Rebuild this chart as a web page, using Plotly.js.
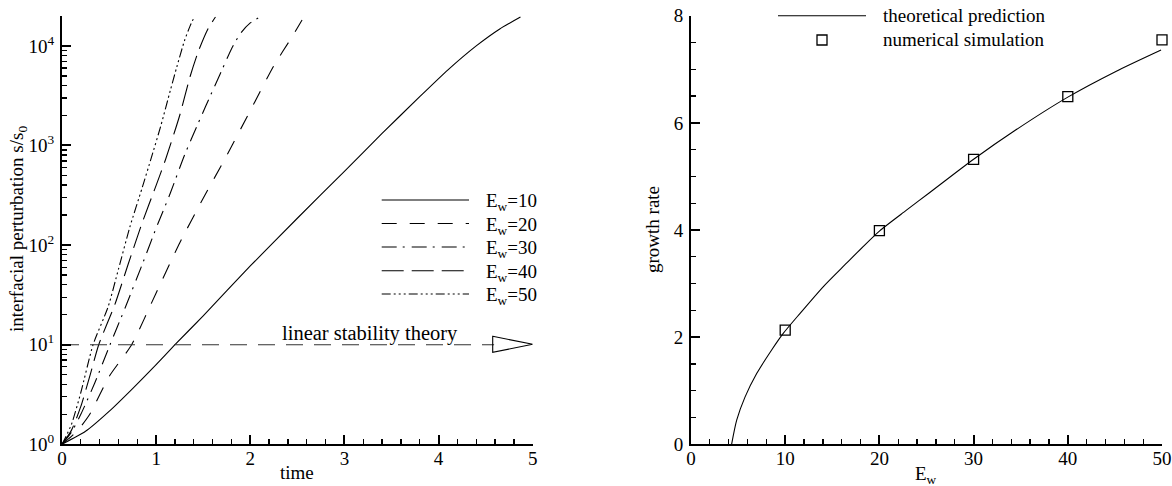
<!DOCTYPE html>
<html>
<head>
<meta charset="utf-8">
<script src="https://cdn.plot.ly/plotly-3.0.1.min.js"></script>
<style>
  html, body { margin: 0; padding: 0; background: #fff; }
  #plotArea { width: 1172px; height: 486px; }
</style>
</head>
<body>
<div id="plotArea"></div>
<script>
// left panel: perturbation growth s/s0 vs time (log scale)
var t10 = [0, 0.25, 0.5, 0.75, 1.0, 1.2, 1.5, 2.0, 2.5, 3.0, 3.4, 3.8, 4.1, 4.4, 4.65, 4.87];
var s10 = [1, 1.35, 2.14, 3.63, 6.31, 10, 19.5, 61.7, 186, 550, 1320, 3090, 5750, 10000, 14800, 19500];

var t20 = [0, 0.1, 0.2, 0.3, 0.5, 0.74, 1.0, 1.25, 1.5, 1.75, 2.0, 2.25, 2.45, 2.55];
var s20 = [1, 1.2, 1.51, 2.04, 4.79, 10, 33.1, 105, 295, 794, 2240, 6310, 12600, 18200];

var t30 = [0, 0.1, 0.2, 0.35, 0.51, 0.67, 0.85, 1.0, 1.15, 1.3, 1.45, 1.6, 1.7, 1.8, 1.9, 2.0, 2.12];
var s30 = [1, 1.32, 2.0, 4.17, 10, 23.4, 63.1, 148, 331, 794, 1700, 3550, 5750, 9330, 13500, 17000, 19950];

var t40 = [0, 0.1, 0.2, 0.3, 0.39, 0.56, 0.7, 0.85, 1.0, 1.1, 1.25, 1.36, 1.45, 1.55, 1.63];
var s40 = [1, 1.38, 2.4, 5.01, 10, 25.1, 63.1, 166, 398, 724, 2000, 4900, 8910, 14800, 19500];

var t50 = [0, 0.1, 0.2, 0.33, 0.49, 0.6, 0.72, 0.85, 0.95, 1.05, 1.15, 1.22, 1.3, 1.36, 1.41];
var s50 = [1, 1.58, 3.31, 10, 24, 57.5, 151, 372, 759, 1580, 3550, 6170, 11200, 15800, 19950];

var lstX = [0, 4.59];
var lstY = [10, 10];

var yTickVals = [1, 10, 100, 1000, 10000];
var yTickText = ['10<sup>0</sup>', '10<sup>1</sup>', '10<sup>2</sup>', '10<sup>3</sup>', '10<sup>4</sup>'];

// right panel: growth rate vs E_w
var theoE = [4.31, 4.85, 5.73, 6.97, 8.56, 9.79, 11.56, 14.03, 16.51, 18.27, 20.0, 22.87, 25.35, 30.0, 34.5, 40.0, 45.1, 49.9];
var theoG = [0, 0.45, 0.88, 1.32, 1.76, 2.07, 2.44, 2.94, 3.38, 3.69, 3.98, 4.37, 4.70, 5.32, 5.87, 6.48, 6.96, 7.36];

var simE = [10, 20, 30, 40, 50];
var simG = [2.13, 3.99, 5.32, 6.49, 7.55];

var legendNames = ['E<sub>w</sub>=10', 'E<sub>w</sub>=20', 'E<sub>w</sub>=30', 'E<sub>w</sub>=40', 'E<sub>w</sub>=50'];

var W = 1172, H = 486;
function px(x) { return x / W; }
function py(y) { return 1 - y / H; }

var dashes = ['solid', '15px,13px', '15px,6px,2px,7px', '22px,8px', '9px,3px,2px,3px,2px,3px,2px,3px'];
var blk = 'black';

var curveX = [t10, t20, t30, t40, t50];
var curveY = [s10, s20, s30, s40, s50];

var data = [];
for (var i = 0; i < 5; i++) {
  data.push({
    x: curveX[i], y: curveY[i], type: 'scatter', mode: 'lines',
    line: {color: blk, width: 1.1, dash: dashes[i], shape: 'spline', smoothing: 0.6},
    xaxis: 'x', yaxis: 'y', showlegend: false
  });
}
data.push({
  x: lstX, y: lstY, type: 'scatter', mode: 'lines',
  line: {color: '#333', width: 1.1, dash: '17px,11px'},
  xaxis: 'x', yaxis: 'y', showlegend: false
});
data.push({
  x: theoE, y: theoG, type: 'scatter', mode: 'lines',
  line: {color: blk, width: 1.1, shape: 'spline', smoothing: 0.7},
  xaxis: 'x2', yaxis: 'y2', showlegend: false
});
data.push({
  x: simE, y: simG, type: 'scatter', mode: 'markers',
  marker: {symbol: 'square-open', size: 10, color: blk, line: {width: 1.3, color: blk}},
  xaxis: 'x2', yaxis: 'y2', showlegend: false, cliponaxis: false
});

var minorLog = [];
for (var d = 1; d <= 10000; d *= 10) {
  for (var k = 2; k <= 9; k++) minorLog.push(k * d);
}

var tickFont = {family: 'Liberation Serif', size: 19, color: blk};
var yDom = [py(444.3), py(15.7)];

function axisBase() {
  return {
    showline: true, linewidth: 2, linecolor: blk, mirror: false,
    ticks: 'inside', ticklen: 9, tickwidth: 2, tickcolor: blk,
    showgrid: false, zeroline: false, tickfont: tickFont, fixedrange: true
  };
}

var xaxis = Object.assign(axisBase(), {
  domain: [px(62), px(532.7)], range: [0, 5], dtick: 1, tick0: 0, anchor: 'y',
  ticklabelstandoff: -4,
  minor: {dtick: 0.2, tick0: 0, ticks: 'inside', ticklen: 5, tickwidth: 1.3, tickcolor: blk}
});
var yaxis = Object.assign(axisBase(), {
  domain: yDom, type: 'log', range: [0, 4.303], anchor: 'x',
  tickmode: 'array', tickvals: yTickVals, ticktext: yTickText, ticklabelstandoff: 2,
  minor: {tickmode: 'array', tickvals: minorLog, ticks: 'inside', ticklen: 5, tickwidth: 1.3, tickcolor: blk}
});
var xaxis2 = Object.assign(axisBase(), {
  domain: [px(691), px(1162)], range: [0, 50], dtick: 10, tick0: 0, anchor: 'y2',
  ticklabelstandoff: -4,
  minor: {dtick: 2, tick0: 0, ticks: 'inside', ticklen: 5, tickwidth: 1.3, tickcolor: blk}
});
var yaxis2 = Object.assign(axisBase(), {
  domain: yDom, range: [0, 8], dtick: 2, tick0: 0, anchor: 'x2', ticklabelstandoff: 2,
  minor: {dtick: 0.5, tick0: 0, ticks: 'inside', ticklen: 5, tickwidth: 1.3, tickcolor: blk}
});

var txt = {family: 'Liberation Serif', size: 19, color: blk};
var shapes = [];
var annotations = [];

// left legend (manual, long line samples)
var legY = [200, 223.5, 247, 270.7, 294];
for (var j = 0; j < 5; j++) {
  shapes.push({type: 'line', xref: 'paper', yref: 'paper',
    x0: px(381.7), x1: px(469), y0: py(legY[j]), y1: py(legY[j]),
    line: {color: blk, width: 1.1, dash: dashes[j]}});
  annotations.push({xref: 'paper', yref: 'paper', x: px(484), y: py(legY[j] + 2),
    xanchor: 'left', yanchor: 'middle', showarrow: false, text: legendNames[j], font: txt});
}

// arrow head of the linear stability line
shapes.push({type: 'path', xref: 'x', yref: 'paper', xsizemode: 'pixel', ysizemode: 'pixel',
  xanchor: 5, yanchor: py(344.3), path: 'M -40,8 L 0,0 L -40,-8 Z',
  line: {color: blk, width: 1.1}, fillcolor: 'rgba(0,0,0,0)'});

annotations.push({xref: 'paper', yref: 'paper', x: px(369.5), y: py(333),
  xanchor: 'center', yanchor: 'middle', showarrow: false, text: 'linear stability theory',
  font: {family: 'Liberation Serif', size: 20.5, color: blk}});

// right legend
shapes.push({type: 'line', xref: 'paper', yref: 'paper',
  x0: px(778), x1: px(866), y0: py(15.7), y1: py(15.7), line: {color: blk, width: 1.1}});
shapes.push({type: 'rect', xref: 'paper', yref: 'paper',
  x0: px(817), x1: px(827), y0: py(45), y1: py(35), line: {color: blk, width: 1.3}});
annotations.push({xref: 'paper', yref: 'paper', x: px(881), y: py(15.5),
  xanchor: 'left', yanchor: 'middle', showarrow: false, text: 'theoretical prediction', font: txt});
annotations.push({xref: 'paper', yref: 'paper', x: px(881), y: py(40),
  xanchor: 'left', yanchor: 'middle', showarrow: false, text: 'numerical simulation', font: txt});

// axis titles
annotations.push({xref: 'paper', yref: 'paper', x: px(297), y: py(472),
  xanchor: 'center', yanchor: 'middle', showarrow: false, text: 'time', font: txt});
annotations.push({xref: 'paper', yref: 'paper', x: px(18), y: py(229),
  xanchor: 'center', yanchor: 'middle', showarrow: false, textangle: -90,
  text: 'interfacial perturbation s/s<sub>0</sub>', font: txt});
annotations.push({xref: 'paper', yref: 'paper', x: px(926), y: py(475),
  xanchor: 'center', yanchor: 'middle', showarrow: false, text: 'E<sub>w</sub>', font: txt});
annotations.push({xref: 'paper', yref: 'paper', x: px(653), y: py(230),
  xanchor: 'center', yanchor: 'middle', showarrow: false, textangle: -90,
  text: 'growth rate', font: txt});

var layout = {
  width: W, height: H,
  margin: {l: 0, r: 0, t: 0, b: 0},
  paper_bgcolor: 'white', plot_bgcolor: 'white',
  font: txt, showlegend: false,
  xaxis: xaxis, yaxis: yaxis, xaxis2: xaxis2, yaxis2: yaxis2,
  shapes: shapes, annotations: annotations
};

Plotly.newPlot('plotArea', data, layout, {staticPlot: true, displayModeBar: false});
</script>
</body>
</html>
